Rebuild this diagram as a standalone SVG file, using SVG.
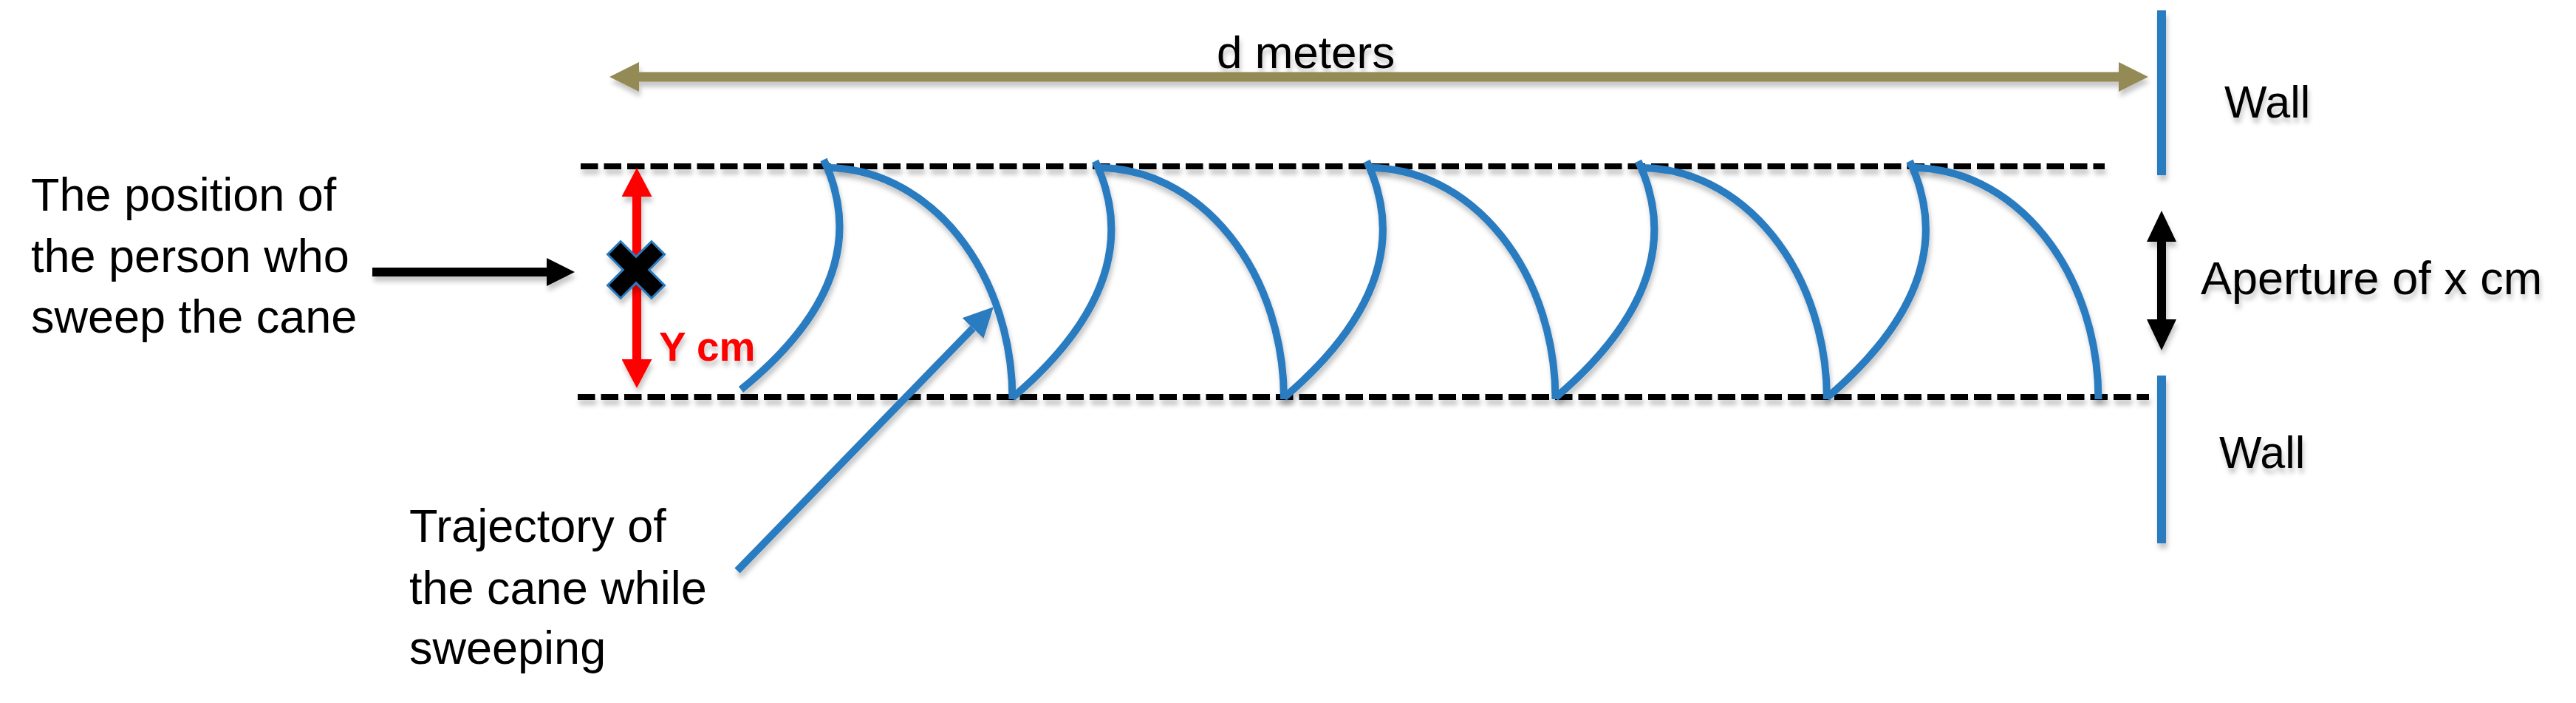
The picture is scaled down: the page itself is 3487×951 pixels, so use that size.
<svg xmlns="http://www.w3.org/2000/svg" width="3487" height="951" viewBox="0 0 3487 951">
<defs>
<style>
text{font-family:"Liberation Sans",Arial,sans-serif;font-size:63px;fill:#000}
.t62{font-size:62px}
.t61{font-size:61px}
.ycm{font-weight:bold;font-size:55px;fill:#FF0000}
.dash{stroke:#000;stroke-width:8;stroke-dasharray:23.5 8;fill:none}
.arc{stroke:#2B7BC0;stroke-width:10;fill:none}
.wall{stroke:#2B7BC0;stroke-width:12}
.sh{filter:url(#shadow)}
</style>
<filter id="shadow" filterUnits="userSpaceOnUse" x="0" y="0" width="3487" height="951">
<feDropShadow dx="2" dy="7" stdDeviation="3" flood-color="#000" flood-opacity="0.22"/>
</filter>
<marker id="hOlive" markerUnits="userSpaceOnUse" viewBox="0 -20 40 40" markerWidth="40" markerHeight="40" refX="0" refY="0" orient="auto-start-reverse"><path d="M0,-20L40,0L0,20z" fill="#948A54"/></marker>
<marker id="hBlackH" markerUnits="userSpaceOnUse" viewBox="0 -19 38 38" markerWidth="38" markerHeight="38" refX="0" refY="0" orient="auto-start-reverse"><path d="M0,-19L38,0L0,19z" fill="#000"/></marker>
<marker id="hBlackV" markerUnits="userSpaceOnUse" viewBox="0 -20 42 40" markerWidth="42" markerHeight="40" refX="0" refY="0" orient="auto-start-reverse"><path d="M0,-20L42,0L0,20z" fill="#000"/></marker>
<marker id="hRed" markerUnits="userSpaceOnUse" viewBox="0 -20.5 39 41" markerWidth="39" markerHeight="41" refX="0" refY="0" orient="auto-start-reverse"><path d="M0,-20.5L39,0L0,20.5z" fill="#FF0000"/></marker>
<marker id="hBlue" markerUnits="userSpaceOnUse" viewBox="0 -20 40 40" markerWidth="40" markerHeight="40" refX="0" refY="0" orient="auto"><path d="M0,-20L40,0L0,20z" fill="#2B7BC0"/></marker>
</defs>
<rect width="3487" height="951" fill="#fff"/>

<g id="path-lines" class="sh">
<line class="dash" x1="786" y1="225" x2="2849" y2="225"/>
<line class="dash" x1="782" y1="537" x2="2909" y2="537"/>
</g>

<g id="trajectory" class="sh">
<path class="arc" d="M1003,527 Q1190,375 1115,216"/>
<path class="arc" d="M1119,227 A251.5,313 0 0 1 1370.5,540"/>
<path class="arc" d="M1370.5,538 Q1558.5,378 1482.5,218"/>
<path class="arc" d="M1486.5,227 A251.5,313 0 0 1 1738,540"/>
<path class="arc" d="M1738,538 Q1926,378 1850,218"/>
<path class="arc" d="M1854,227 A251.5,313 0 0 1 2105.5,540"/>
<path class="arc" d="M2105.5,538 Q2293.5,378 2217.5,218"/>
<path class="arc" d="M2221.5,227 A251.5,313 0 0 1 2473,540"/>
<path class="arc" d="M2473,538 Q2661,378 2585,218"/>
<path class="arc" d="M2589,227 A251.5,313 0 0 1 2840.5,540"/>
</g>

<g id="wall-top" class="sh">
<line class="wall" x1="2926" y1="14" x2="2926" y2="237"/>
<text class="t61" x="3011" y="159">Wall</text>
</g>
<g id="wall-bottom" class="sh">
<line class="wall" x1="2926" y1="508" x2="2926" y2="735"/>
<text class="t61" x="3004" y="633">Wall</text>
</g>

<g id="distance" class="sh">
<line x1="865" y1="104" x2="2868" y2="104" stroke="#948A54" stroke-width="13" marker-start="url(#hOlive)" marker-end="url(#hOlive)"/>
<text class="t62" x="1647" y="92">d meters</text>
</g>

<g id="aperture" class="sh">
<line x1="2926" y1="327" x2="2926" y2="432" stroke="#000" stroke-width="12" marker-start="url(#hBlackV)" marker-end="url(#hBlackV)"/>
<text x="2979" y="398">Aperture of x cm</text>
</g>

<g id="y-dimension" class="sh">
<line x1="862" y1="266" x2="862" y2="486" stroke="#FF0000" stroke-width="12" marker-start="url(#hRed)" marker-end="url(#hRed)"/>
<text class="ycm" x="892" y="488">Y cm</text>
</g>

<g id="person" class="sh">
<polygon transform="translate(861,365)" points="38.5,-20.9 17.7,0 38.5,20.9 20.9,38.5 0,17.7 -20.9,38.5 -38.5,20.9 -17.7,0 -38.5,-20.9 -20.9,-38.5 0,-17.7 20.9,-38.5" fill="#000" stroke="#2B7BC0" stroke-width="3" stroke-linejoin="miter"/>
</g>

<g id="label-person">
<text x="42" y="285">The position of</text>
<text x="42" y="368">the person who</text>
<text x="42" y="450">sweep the cane</text>
</g>

<g id="label-trajectory">
<text x="554" y="733">Trajectory of</text>
<text x="554" y="817">the cane while</text>
<text x="554" y="898">sweeping</text>
</g>

<g id="connectors" class="sh">
<line x1="504" y1="368" x2="740" y2="368" stroke="#000" stroke-width="12" marker-end="url(#hBlackH)"/>
<line x1="998" y1="772" x2="1317" y2="444" stroke="#2B7BC0" stroke-width="10" marker-end="url(#hBlue)"/>
</g>
</svg>
